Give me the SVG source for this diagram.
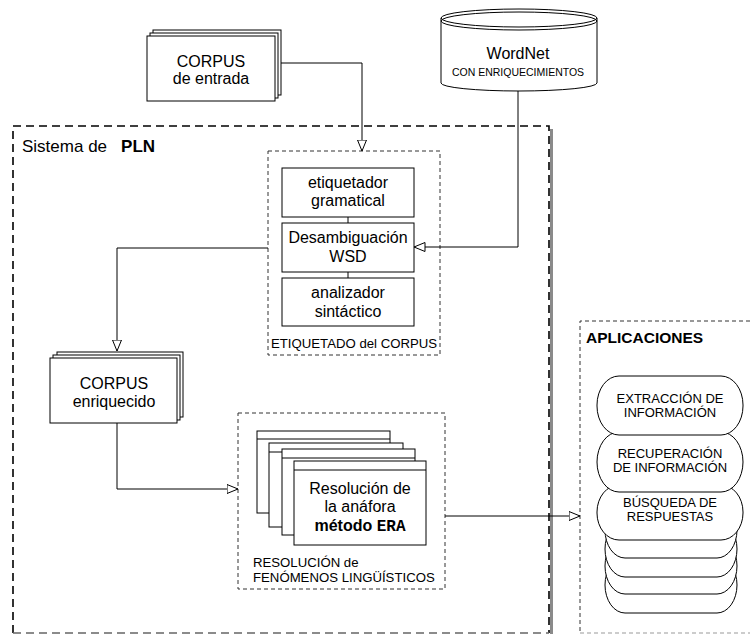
<svg xmlns="http://www.w3.org/2000/svg" width="750" height="637" viewBox="0 0 750 637">
<style>
text{font-family:"Liberation Sans",Arial,sans-serif;fill:#000}
.t16{font-size:16px;text-anchor:middle}
.t13{font-size:13.2px}
.tc13{font-size:13px;text-anchor:middle}
.mono{font-family:"Liberation Mono","Courier New",monospace}
.box{fill:#fff;stroke:#000;stroke-width:1}
.ln{fill:none;stroke:#000;stroke-width:1}
.dsh{fill:none;stroke:#333;stroke-width:1;stroke-dasharray:4 3}
.big{fill:none;stroke:#000;stroke-width:1.6;stroke-dasharray:8 5}
</style>
<defs>
<marker id="ah" viewBox="0 0 12 10" refX="11.5" refY="5" markerWidth="12" markerHeight="10" markerUnits="userSpaceOnUse" orient="auto">
<path d="M0.5,0.5 L11.5,5 L0.5,9.5 Z" fill="#fff" stroke="#000" stroke-width="1"/>
</marker>
</defs>

<g id="pln">
<rect x="550" y="129" width="3" height="505" fill="#8a8a8a"/>
<path class="big" d="M13,633 L13,126 L549,126 L549,633"/>
<path d="M13,633 L549,633" fill="none" stroke="#666" stroke-width="1.4" stroke-dasharray="8 5"/>
<text x="22" y="152" style="font-size:17px">Sistema de<tspan font-weight="bold" dx="14">PLN</tspan></text>
</g>

<g id="aplicaciones">
<path d="M750,321 L580,321 L580,633" fill="none" stroke="#333" stroke-width="1" stroke-dasharray="4 3"/>
<path d="M580,633 L750,633" fill="none" stroke="#999" stroke-width="1" stroke-dasharray="4 3"/>
<text x="586" y="343" style="font-size:15.5px;font-weight:bold">APLICACIONES</text>
</g>

<g id="corpus-entrada">
<rect class="box" x="153" y="30" width="128" height="65"/>
<rect class="box" x="150" y="33" width="128" height="65"/>
<rect class="box" x="147" y="36" width="128" height="65"/>
<text class="t16" x="211" y="67">CORPUS</text>
<text class="t16" x="211" y="84">de entrada</text>
</g>

<g id="wordnet">
<path class="box" d="M441,18 L441,83 A78,8 0 0 0 597,83 L597,18 Z"/>
<ellipse class="box" cx="519" cy="18" rx="78" ry="9"/>
<ellipse class="ln" cx="519" cy="21" rx="78" ry="9"/>
<text class="t16" x="518" y="59">WordNet</text>
<text x="518" y="76" style="font-size:10.5px;text-anchor:middle">CON ENRIQUECIMIENTOS</text>
</g>

<g id="etiquetado">
<rect class="dsh" x="268" y="151" width="172" height="204"/>
<line class="ln" x1="348" y1="217" x2="348" y2="223"/>
<line class="ln" x1="348" y1="272" x2="348" y2="278"/>
<rect class="box" x="282" y="168" width="132" height="49"/>
<text class="t16" x="348" y="188">etiquetador</text>
<text class="t16" x="348" y="206">gramatical</text>
<rect class="box" x="282" y="223" width="132" height="49"/>
<text class="t16" x="348" y="243">Desambiguación</text>
<text class="t16" x="348" y="262">WSD</text>
<rect class="box" x="282" y="278" width="132" height="48"/>
<text class="t16" x="348" y="298">analizador</text>
<text class="t16" x="348" y="317">sintáctico</text>
<text class="t13" x="271" y="348">ETIQUETADO del CORPUS</text>
</g>

<g id="corpus-enriquecido">
<rect class="box" x="57" y="352" width="126" height="65"/>
<rect class="box" x="53" y="355" width="127" height="65"/>
<rect class="box" x="50" y="358" width="127" height="65"/>
<text class="t16" x="114" y="389">CORPUS</text>
<text class="t16" x="114" y="407">enriquecido</text>
</g>

<g id="resolucion">
<rect class="dsh" x="238" y="413" width="207" height="176"/>
<rect class="box" x="257" y="431" width="133" height="82"/>
<line class="ln" x1="257" y1="439" x2="390" y2="439"/>
<rect class="box" x="269" y="443" width="134" height="84"/>
<line class="ln" x1="269" y1="452" x2="403" y2="452"/>
<rect class="box" x="282" y="449" width="133" height="86"/>
<line class="ln" x1="282" y1="458" x2="415" y2="458"/>
<rect class="box" x="294" y="461" width="132" height="84"/>
<line class="ln" x1="294" y1="470" x2="426" y2="470"/>
<text class="t16" x="360" y="494">Resolución de</text>
<text class="t16" x="360" y="512">la anáfora</text>
<text class="t16" x="360" y="531" font-weight="bold">método <tspan class="mono">ERA</tspan></text>
<text class="t13" x="253" y="567">RESOLUCIÓN de</text>
<text class="t13" x="253" y="582">FENÓMENOS LINGÜÍSTICOS</text>
</g>

<g id="apps">
<rect class="box" x="605" y="557" width="132" height="56" rx="20" ry="28"/>
<rect class="box" x="605" y="538" width="132" height="56" rx="20" ry="28"/>
<rect class="box" x="605" y="521" width="132" height="56" rx="20" ry="28"/>
<rect class="box" x="605" y="502" width="132" height="56" rx="20" ry="28"/>
<rect class="box" x="597" y="485" width="146" height="55" rx="22" ry="27"/>
<text class="tc13" x="670" y="507">BÚSQUEDA DE</text>
<text class="tc13" x="670" y="521">RESPUESTAS</text>
<rect class="box" x="597" y="432" width="146" height="60" rx="22" ry="30"/>
<text class="tc13" x="670" y="458">RECUPERACIÓN</text>
<text class="tc13" x="670" y="472">DE INFORMACIÓN</text>
<rect class="box" x="597" y="376" width="146" height="59" rx="22" ry="29"/>
<text class="tc13" x="670" y="403">EXTRACCIÓN DE</text>
<text class="tc13" x="670" y="417">INFORMACIÓN</text>
</g>

<g id="connectors">
<path class="ln" d="M281,63 L362,63 L362,151" marker-end="url(#ah)"/>
<path class="ln" d="M518,91 L518,247 L414,247" marker-end="url(#ah)"/>
<path class="ln" d="M268,248 L117,248 L117,351" marker-end="url(#ah)"/>
<path class="ln" d="M117,423 L117,489 L238,489" marker-end="url(#ah)"/>
<path class="ln" d="M445,516 L580,516" marker-end="url(#ah)"/>
</g>
</svg>
